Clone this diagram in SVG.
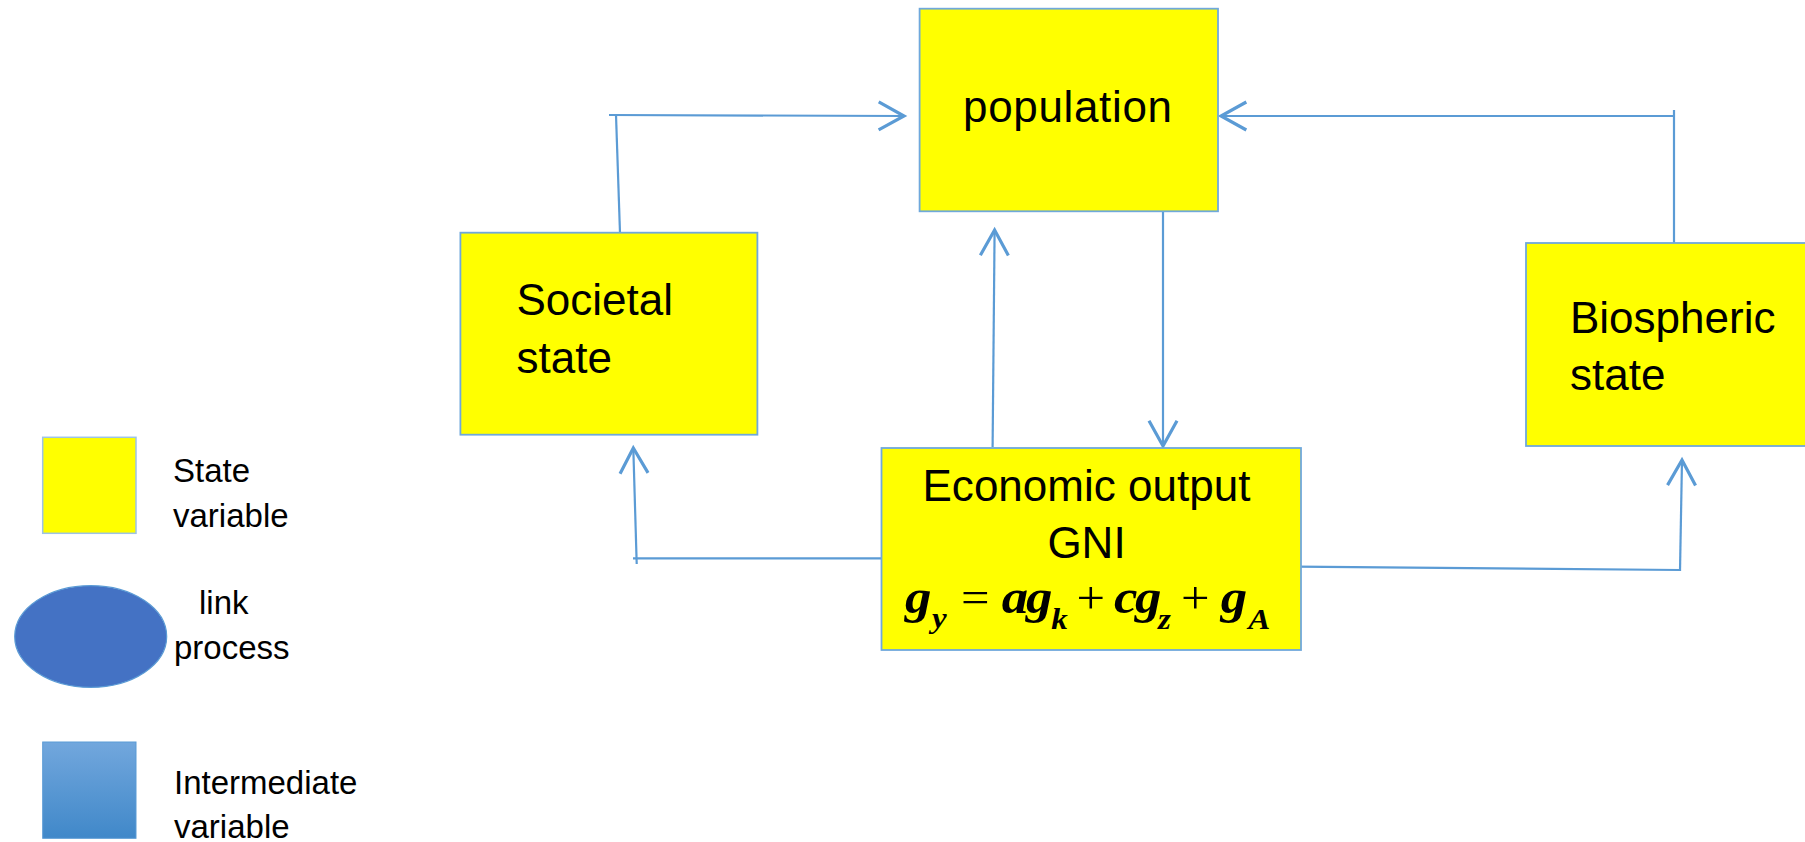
<svg xmlns="http://www.w3.org/2000/svg" width="1805" height="842" viewBox="0 0 1805 842">
<style>
.box{fill:#FFFF00;stroke:#6FA8DC;stroke-width:1.8}
.lbl{font-family:"Liberation Sans",Arial,sans-serif;font-size:44px;fill:#000}
.leg{font-family:"Liberation Sans",Arial,sans-serif;font-size:33px;fill:#000}
.con{fill:none;stroke:#5B9BD5;stroke-width:2.2}
.m{font-family:"Liberation Serif","Times New Roman",serif;font-style:italic;font-weight:bold;font-size:48px;fill:#000}
.s{font-size:30px}
.op{font-style:normal;font-weight:normal;font-size:46px}
</style>
<defs>
<marker id="arr" markerUnits="userSpaceOnUse" markerWidth="40" markerHeight="40" viewBox="-25 -15 30 30" refX="0" refY="0" orient="auto">
<path d="M-19,-10.5 L0,0 L-19,10.5" fill="none" stroke="#5B9BD5" stroke-width="2.4"/>
</marker>
<linearGradient id="blueg" x1="0" y1="0" x2="0" y2="1">
<stop offset="0" stop-color="#72A7DD"/>
<stop offset="1" stop-color="#4088C9"/>
</linearGradient>
</defs>

<g id="connectors">
<path class="con" d="M620,233 L616,115"/>
<path class="con" d="M609,115 L904,116" marker-end="url(#arr)"/>
<path class="con" d="M1674,243 L1674,110"/>
<path class="con" d="M1674,116 L1221,116" marker-end="url(#arr)"/>
<path class="con" d="M992.6,447 L994.6,230" marker-end="url(#arr)"/>
<path class="con" d="M1163,211 L1163,446" marker-end="url(#arr)"/>
<path class="con" d="M881,558.3 L633,558.3"/>
<path class="con" d="M636.7,564 L633.3,448" marker-end="url(#arr)"/>
<path class="con" d="M1296,566.7 L1680,570"/>
<path class="con" d="M1680,571 L1682,460" marker-end="url(#arr)"/>
</g>

<g id="population">
<rect class="box" x="919.6" y="8.7" width="298.4" height="202.6"/>
<text class="lbl" x="963" y="121.7" textLength="209">population</text>
</g>

<g id="societal">
<rect class="box" x="460.4" y="232.7" width="297" height="202"/>
<text class="lbl" x="516.5" y="315">Societal</text>
<text class="lbl" x="516.5" y="372.7">state</text>
</g>

<g id="biospheric">
<rect class="box" x="1526" y="243" width="285" height="203"/>
<text class="lbl" x="1570" y="333">Biospheric</text>
<text class="lbl" x="1570" y="390">state</text>
</g>

<g id="economic">
<rect class="box" x="881.5" y="448" width="419.5" height="202"/>
<text class="lbl" x="1086.5" y="501" text-anchor="middle" textLength="328">Economic output</text>
<text class="lbl" x="1086.5" y="558.3" text-anchor="middle">GNI</text>
<g transform="translate(905 613) scale(1.1 1)">
<text class="m"><tspan x="0" y="0">g</tspan><tspan class="s" x="24.5" y="15">y</tspan><tspan class="op" x="51" y="0">=</tspan><tspan x="88" y="0">a</tspan><tspan x="110" y="0">g</tspan><tspan class="s" x="133" y="16">k</tspan><tspan class="op" x="156" y="0">+</tspan><tspan x="190" y="0">c</tspan><tspan x="209" y="0">g</tspan><tspan class="s" x="230" y="16">z</tspan><tspan class="op" x="251" y="0">+</tspan><tspan x="287" y="0">g</tspan><tspan class="s" x="312" y="16">A</tspan></text>
</g>
</g>

<g id="legend-state">
<rect x="42.7" y="437.3" width="93.3" height="96" fill="#FFFF00" stroke="#9DC3E6" stroke-width="1.5"/>
<text class="leg" x="173" y="481.7">State</text>
<text class="leg" x="173" y="526.7">variable</text>
</g>

<g id="legend-link">
<ellipse cx="90.7" cy="636.5" rx="76" ry="50.8" fill="#4472C4" stroke="#5B9BD5" stroke-width="1.2"/>
<text class="leg" x="199" y="614">link</text>
<text class="leg" x="174" y="659">process</text>
</g>

<g id="legend-intermediate">
<rect x="42.7" y="742" width="93.3" height="96.3" fill="url(#blueg)" stroke="#5B9BD5" stroke-width="1"/>
<text class="leg" x="174" y="794">Intermediate</text>
<text class="leg" x="174" y="838">variable</text>
</g>
</svg>
